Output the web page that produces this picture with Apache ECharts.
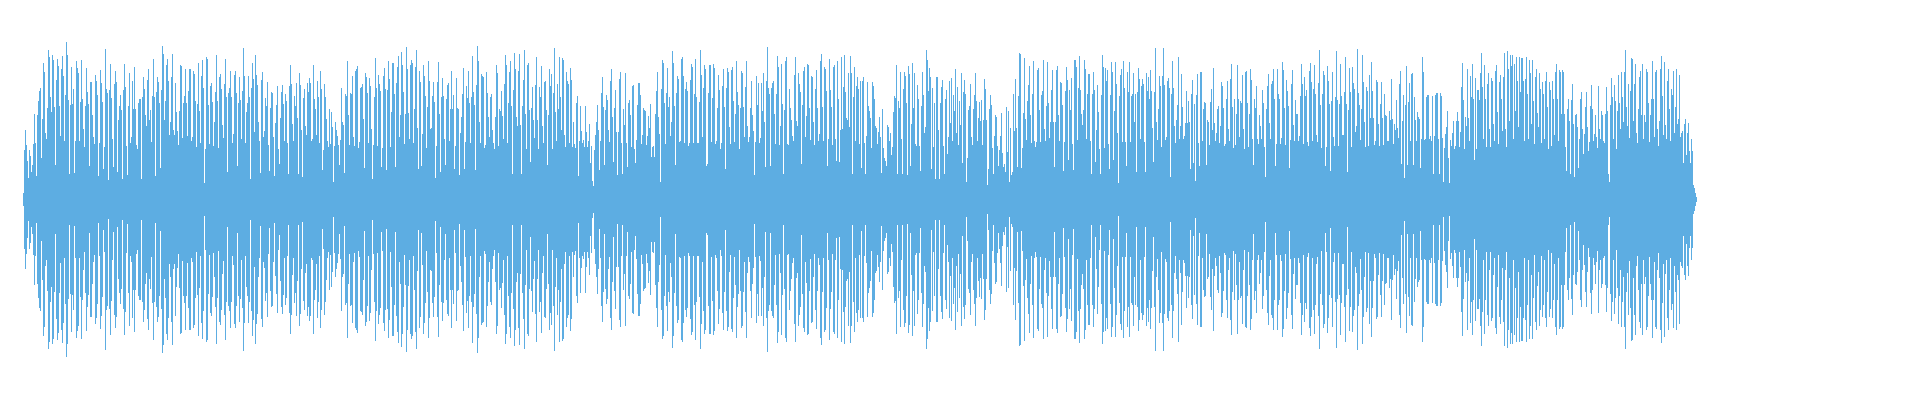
<!DOCTYPE html>
<html>
<head>
<meta charset="utf-8">
<style>
  html, body { margin: 0; padding: 0; background: #fff; }
  #chart { width: 1920px; height: 400px; }
</style>
<script src="https://cdn.jsdelivr.net/npm/echarts@6/dist/echarts.min.js"></script>
</head>
<body>
<div id="chart"></div>
<script>
// peak amplitude per column
const waveA = [6,49,69,54,38,21,49,43,27,34,55,85,56,23,84,98,108,111,41,80,136,127,66,60,91,149,142,102,87,144,139,92,34,119,140,133,93,63,130,143,123,58,104,157,144,99,25,94,132,95,110,26,58,138,131,126,58,97,139,100,70,52,93,131,107,95,33,117,117,84,62,55,124,118,104,23,56,129,116,97,30,52,150,110,106,19,109,135,101,60,32,115,128,117,27,79,93,104,89,20,109,135,112,53,24,93,126,56,62,118,
90,132,90,54,50,96,100,100,20,102,122,110,84,73,119,130,79,89,57,103,140,102,23,107,122,117,96,31,109,153,145,79,98,134,140,118,64,77,122,145,69,64,116,87,68,54,88,134,133,61,96,103,130,96,63,108,130,130,58,62,128,125,98,52,95,136,88,56,123,139,111,16,50,142,140,94,55,113,116,97,53,77,107,144,98,51,122,125,110,74,61,115,140,102,27,106,111,128,102,56,65,124,128,106,33,96,122,99,60,108,151,123,56,87,96,123,102,20,111,136,120,67,144,124,114,77,58,26,119,127,62,68,101,93,117,54,28,91,107,106,62,23,76,94,113,50,35,81,107,114,95,58,105,98,56,25,113,134,115,75,58,103,93,116,81,25,126,114,69,22,101,110,73,64,116,107,121,116,58,60,134,100,90,64,118,102,56,128];

const waveB = [110,29,49,115,102,80,58,52,90,55,87,72,17,53,77,69,63,54,34,59,111,77,74,26,105,103,138,84,54,106,105,123,62,53,128,130,133,51,57,111,112,115,80,31,126,122,106,56,121,113,70,20,54,102,141,111,53,124,115,108,32,51,123,131,110,29,109,138,120,52,87,136,136,105,32,116,132,143,62,84,147,134,107,55,85,152,130,86,60,134,139,136,56,90,132,149,71,30,128,117,33,65,134,123,103,51,92,138,118,70,71,103,117,97,21,53,117,137,85,27,102,121,103,60,34,100,114,116,58,90,128,90,104,30,53,121,91,90,24,66,82,105,131,30,57,113,101,128,96,56,102,143,107,94,29,114,153,138,77,56,125,123,122,51,54,127,106,82,62,102,105,69,56,50,82,134,126,53,90,88,108,83,60,115,144,134,56,96,127,138,93,25,109,146,130,82,73,128,145,74,25,93,119,149,85,50,134,136,89,37,91,112,79,61,114,142,79,50,112,102,133,73,56,117,118,89,34,84,130,113,125,50,106,151,87,58,115,90,142,102,69,141,139,64,52,127,118,115,56,131,119,52,77,55,51,96,103,23,58,93,68,56,59,52,93,67,52,58,75,36,53,18,13,49,64,77,94,69,29,58,106,122,92,34,89,104,99,69,57,118,130,82,37,91,109,67,24,67,120,127,56,25,90,74,126,56,32,96,99,84,52,113,114,50,36,59,94];

const waveC = [116,116,104,55,64,91,89,88,54,63,83,71,95,42,52,53,42,85,108,127,82,65,17,110,139,136,96,55,106,131,92,102,63,77,148,136,93,34,106,123,120,57,58,140,142,123,56,110,117,108,53,56,119,135,132,56,105,140,102,56,56,97,149,124,62,111,134,130,33,35,106,134,134,57,101,135,131,55,58,91,124,109,50,56,113,130,92,30,111,131,127,72,55,129,132,98,57,85,138,107,94,50,91,128,126,92,62,112,138,73,57,62,91,118,84,68,24,57,123,94,116,56,61,116,88,126,77,32,118,152,111,105,33,111,116,118,85,55,105,143,132,54,73,135,95,25,89,138,142,55,54,110,91,79,63,58,124,142,78,73,126,115,107,35,94,128,132,62,83,135,134,91,59,123,122,77,54,110,129,91,58,65,138,145,92,58,132,130,108,33,60,140,109,92,54,132,134,60,38,138,100,37,69,142,70,112,144,107,81,79,126,72,143,126,25,102,132,58,113,122,110,55,118,31,118,122,56,25,63,117,93,88,81,51,117,113,100,73,71,55,67,82,62,26,90,51,41,38,33,74,72,58,66,44,52,87,103,101,134,25,98,91,127,60,25,110,127,123,96,24,133,125,33,75,136,91,126,55,53,114,100,53,28,93,127,104,66,72,149,139,108,131,122,30,111,52,96,20,122,122,69,20,96,112,119,53,25,100,109,45,62,118,76,121,58,104,88,130,66,112,54,98,74,126];

const waveD = [36,107,119,105,17,41,89,93,115,62,54,90,104,126,98,58,81,97,78,99,54,79,120,110,79,14,30,90,104,94,51,25,63,84,82,53,33,49,63,86,46,32,35,27,92,47,88,17,71,24,27,105,68,120,71,32,103,146,145,31,51,86,141,80,59,98,114,133,84,56,105,138,58,52,57,129,131,89,57,104,108,139,70,58,93,137,96,61,77,109,129,77,32,77,129,133,84,58,117,116,94,28,57,108,132,119,39,109,89,121,55,29,139,139,132,59,111,143,109,85,74,89,139,130,60,105,125,125,58,25,105,127,109,37,69,114,87,50,25,104,144,132,51,131,118,129,55,30,104,137,127,39,88,137,115,66,16,103,124,130,57,138,111,57,33,127,107,137,57,103,105,126,77,105,27,107,131,120,60,113,120,115,57,27,126,108,122,
100,129,108,71,37,107,151,77,59,90,123,113,52,123,151,114,59,62,118,121,111,22,105,138,111,73,56,79,94,142,60,73,125,92,60,63,76,108,76,98,77,30,105,119,36,95,18,104,125,56,33,127,127,58,90,97,96,34,79,77,54,97,110,69,131,76,58,66,90,93,56,73,117,113,91,53,55,100,118,70,58,120,135,92,51,100,54,85,134,100,62,98,96,124,70,50,127,128,96,52,85,130,119,60,34,100,91,113,60,55,84,73,60,109,96,52,22,90,113,125,76,60,115,118,130,100,33,55,130,105,100,55];

const waveE = [61,137,129,91,54,119,108,93,31,59,115,129,74,58,99,85,85,58,63,103,135,115,55,122,103,109,57,53,128,136,117,58,110,134,105,64,57,116,149,94,51,105,128,124,33,52,133,118,95,28,98,127,62,53,102,148,99,53,95,135,103,64,64,107,142,95,27,89,131,107,52,132,116,110,67,73,150,106,94,59,90,144,117,77,52,112,108,53,124,81,137,108,81,54,58,119,117,75,53,95,117,81,54,105,84,83,58,58,88,79,120,80,55,75,69,99,71,61,115,128,35,78,104,21,94,133,34,97,116,58,125,126,34,102,79,58,87,82,80,31,60,142,127,59,60,102,104,104,60,63,58,103,25,63,104,106,106,60,25,106,103,61,17,51,65,72,88,41,16,59,53,66,78,50,53,78,87,78,52,67,112,136,99,50,82,73,130,81,58,123,102,135,100,39,121,50,109,109,99,126,146,
112,60,134,100,52,115,126,70,52,121,118,75,58,128,134,87,55,117,124,100,68,122,146,70,52,148,130,78,144,133,144,60,135,88,142,118,72,142,107,141,141,118,58,120,142,105,60,139,126,75,139,98,55,122,130,86,72,126,110,56,117,105,60,118,127,92,50,117,109,53,118,100,64,127,135,100,58,129,127,85,129,127,85,52,28,90,100,78,25,99,115,75,22,84,85,72,31,60,100,107,70,45,65,92,107,72,48,57,93,114,90,58,65,84,62,51,113,70,60,88,84,58,56,85,112,88,25,17,94,121,102,60,114,98,50,88,124,96,70,127,102,77,127,149,92,73,115,61,108,141,140,78,115,135,66,56,90,122,128,84,135,60,84,77,130,127,96,57,84,100,138,100,62,127,129,70,53,78,130,143,103,64,137,74,60,118,130,90,58,110,104,128,66,92,130,75,80,124,62,66,68,36,75,80,44,66,76,48,36,60,48,14,11,6,2];

const amplitude = [...waveA, ...waveB, ...waveC, ...waveD, ...waveE];
const columns = amplitude.map((_, i) => i);

const chart = echarts.init(document.getElementById('chart'), null, { renderer: 'canvas' });
chart.setOption({
    animation: false,
    backgroundColor: '#fff',
    grid: { left: 23, top: 0, width: amplitude.length, height: 400 },
    xAxis: { type: 'category', data: columns, show: false },
    yAxis: { type: 'value', min: -201, max: 199, show: false },
    series: [
        { type: 'bar', data: amplitude, barWidth: 1, barGap: '-100%', silent: true, itemStyle: { color: '#5dade2' } },
        // lower half reaches one row further down in the reference
        { type: 'bar', data: amplitude.map(v => -v - 1), barWidth: 1, barGap: '-100%', silent: true, itemStyle: { color: '#5dade2' } }
    ]
});
</script>
</body>
</html>
